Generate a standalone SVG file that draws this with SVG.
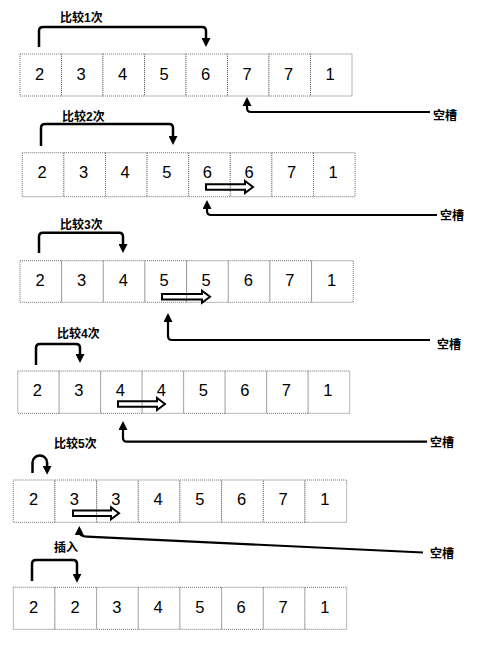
<svg xmlns="http://www.w3.org/2000/svg" width="480" height="649" viewBox="0 0 480 649">
<style>
.cell{fill:#fff;stroke:#707070;stroke-width:1;stroke-dasharray:1 1}
.num{font-family:"Liberation Sans",Arial,sans-serif;font-size:16.5px;fill:#000;text-anchor:middle}
.lbl{font-family:"Liberation Sans","Noto Sans CJK SC",sans-serif;font-size:12px;font-weight:bold;fill:#000}
.br{fill:none;stroke:#000;stroke-width:2.5}
.cn{fill:none;stroke:#000;stroke-width:2.2}
.ha{fill:none;stroke:#000;stroke-width:2;stroke-linejoin:miter}
</style>
<defs>
<marker id="ah" viewBox="0 0 10 10" markerWidth="9" markerHeight="9" markerUnits="userSpaceOnUse" refX="3" refY="5" orient="auto">
<path d="M0,0 L10,5 L0,10 z" fill="#000"/>
</marker>
</defs>

<g id="row1">
<rect class="cell" x="20" y="54" width="41.5" height="42"/>
<rect class="cell" x="61.5" y="54" width="41.5" height="42"/>
<rect class="cell" x="103" y="54" width="41.5" height="42"/>
<rect class="cell" x="144.5" y="54" width="41.5" height="42"/>
<rect class="cell" x="186" y="54" width="41.5" height="42"/>
<rect class="cell" x="227.5" y="54" width="41.5" height="42"/>
<rect class="cell" x="269" y="54" width="41.5" height="42"/>
<rect class="cell" x="310.5" y="54" width="41.5" height="42"/>
<text class="num" x="39.7" y="79.8">2</text>
<text class="num" x="81.2" y="79.8">3</text>
<text class="num" x="122.7" y="79.8">4</text>
<text class="num" x="164.2" y="79.8">5</text>
<text class="num" x="205.7" y="79.8">6</text>
<text class="num" x="247.2" y="79.8">7</text>
<text class="num" x="288.7" y="79.8">7</text>
<text class="num" x="330.2" y="79.8">1</text>
</g>

<g id="row2">
<rect class="cell" x="22.3" y="152.7" width="41.6" height="44"/>
<rect class="cell" x="63.9" y="152.7" width="41.6" height="44"/>
<rect class="cell" x="105.5" y="152.7" width="41.6" height="44"/>
<rect class="cell" x="147.1" y="152.7" width="41.6" height="44"/>
<rect class="cell" x="188.7" y="152.7" width="41.6" height="44"/>
<rect class="cell" x="230.3" y="152.7" width="41.6" height="44"/>
<rect class="cell" x="271.9" y="152.7" width="41.6" height="44"/>
<rect class="cell" x="313.5" y="152.7" width="41.6" height="44"/>
<text class="num" x="42" y="177.8">2</text>
<text class="num" x="83.6" y="177.8">3</text>
<text class="num" x="125.2" y="177.8">4</text>
<text class="num" x="166.8" y="177.8">5</text>
<text class="num" x="207.4" y="177.8">6</text>
<text class="num" x="249" y="177.8">6</text>
<text class="num" x="291.6" y="177.8">7</text>
<text class="num" x="333.2" y="177.8">1</text>
</g>

<g id="row3">
<rect class="cell" x="20" y="260.7" width="41.66" height="41.6"/>
<rect class="cell" x="61.66" y="260.7" width="41.66" height="41.6"/>
<rect class="cell" x="103.32" y="260.7" width="41.66" height="41.6"/>
<rect class="cell" x="144.98" y="260.7" width="41.66" height="41.6"/>
<rect class="cell" x="186.64" y="260.7" width="41.66" height="41.6"/>
<rect class="cell" x="228.3" y="260.7" width="41.66" height="41.6"/>
<rect class="cell" x="269.96" y="260.7" width="41.66" height="41.6"/>
<rect class="cell" x="311.62" y="260.7" width="41.66" height="41.6"/>
<text class="num" x="40" y="286">2</text>
<text class="num" x="81.6" y="286">3</text>
<text class="num" x="123.3" y="286">4</text>
<text class="num" x="164" y="286">5</text>
<text class="num" x="206" y="286">5</text>
<text class="num" x="248.3" y="286">6</text>
<text class="num" x="289.9" y="286">7</text>
<text class="num" x="331.6" y="286">1</text>
</g>

<g id="row4">
<rect class="cell" x="17.7" y="371" width="41.5" height="42.3"/>
<rect class="cell" x="59.2" y="371" width="41.5" height="42.3"/>
<rect class="cell" x="100.7" y="371" width="41.5" height="42.3"/>
<rect class="cell" x="142.2" y="371" width="41.5" height="42.3"/>
<rect class="cell" x="183.7" y="371" width="41.5" height="42.3"/>
<rect class="cell" x="225.2" y="371" width="41.5" height="42.3"/>
<rect class="cell" x="266.7" y="371" width="41.5" height="42.3"/>
<rect class="cell" x="308.2" y="371" width="41.5" height="42.3"/>
<text class="num" x="37.4" y="396.4">2</text>
<text class="num" x="78.9" y="396.4">3</text>
<text class="num" x="120.4" y="396.4">4</text>
<text class="num" x="161.4" y="396.4">4</text>
<text class="num" x="203.4" y="396.4">5</text>
<text class="num" x="244.9" y="396.4">6</text>
<text class="num" x="286.4" y="396.4">7</text>
<text class="num" x="327.9" y="396.4">1</text>
</g>

<g id="row5">
<rect class="cell" x="13.3" y="480" width="41.67" height="42.3"/>
<rect class="cell" x="54.97" y="480" width="41.67" height="42.3"/>
<rect class="cell" x="96.64" y="480" width="41.67" height="42.3"/>
<rect class="cell" x="138.31" y="480" width="41.67" height="42.3"/>
<rect class="cell" x="179.98" y="480" width="41.67" height="42.3"/>
<rect class="cell" x="221.65" y="480" width="41.67" height="42.3"/>
<rect class="cell" x="263.32" y="480" width="41.67" height="42.3"/>
<rect class="cell" x="304.99" y="480" width="41.67" height="42.3"/>
<text class="num" x="33.5" y="505.2">2</text>
<text class="num" x="74.3" y="505.2">3</text>
<text class="num" x="115.8" y="505.2">3</text>
<text class="num" x="158.1" y="505.2">4</text>
<text class="num" x="199.8" y="505.2">5</text>
<text class="num" x="241.5" y="505.2">6</text>
<text class="num" x="283.2" y="505.2">7</text>
<text class="num" x="324.8" y="505.2">1</text>
</g>

<g id="row6">
<rect class="cell" x="13.3" y="587.3" width="41.67" height="42"/>
<rect class="cell" x="54.97" y="587.3" width="41.67" height="42"/>
<rect class="cell" x="96.64" y="587.3" width="41.67" height="42"/>
<rect class="cell" x="138.31" y="587.3" width="41.67" height="42"/>
<rect class="cell" x="179.98" y="587.3" width="41.67" height="42"/>
<rect class="cell" x="221.65" y="587.3" width="41.67" height="42"/>
<rect class="cell" x="263.32" y="587.3" width="41.67" height="42"/>
<rect class="cell" x="304.99" y="587.3" width="41.67" height="42"/>
<text class="num" x="33.5" y="613">2</text>
<text class="num" x="75.2" y="613">2</text>
<text class="num" x="116.8" y="613">3</text>
<text class="num" x="158.1" y="613">4</text>
<text class="num" x="199.8" y="613">5</text>
<text class="num" x="241" y="613">6</text>
<text class="num" x="283.2" y="613">7</text>
<text class="num" x="324.8" y="613">1</text>
</g>

<g id="labels">
<text class="lbl" x="60" y="21.5">比较1次</text>
<text class="lbl" x="62" y="121">比较2次</text>
<text class="lbl" x="60" y="228.5">比较3次</text>
<text class="lbl" x="57" y="337.5">比较4次</text>
<text class="lbl" x="54" y="447.5">比较5次</text>
<text class="lbl" x="54" y="552">插入</text>
<text class="lbl" x="433" y="119.5">空槽</text>
<text class="lbl" x="440" y="220">空槽</text>
<text class="lbl" x="437" y="348.5">空槽</text>
<text class="lbl" x="430" y="447">空槽</text>
<text class="lbl" x="430" y="557.5">空槽</text>
</g>

<g id="connectors">
<path class="br" marker-end="url(#ah)" d="M39,47 V31 Q39,27 43,27 H202 Q206,27 206,31 V40.7"/>
<path class="br" marker-end="url(#ah)" d="M41,146 V128 Q41,124 45,124 H169 Q173,124 173,128 V138.7"/>
<path class="br" marker-end="url(#ah)" d="M39,253 V236.7 Q39,232.7 43,232.7 H119 Q123,232.7 123,236.7 V246.7"/>
<path class="br" marker-end="url(#ah)" d="M36,365 V348 Q36,344 40,344 H76 Q80,344 80,348 V356.7"/>
<path class="br" marker-end="url(#ah)" d="M32.5,473 V462.5 A7.3,7 0 0 1 47.1,462.5 V468.5"/>
<path class="br" marker-end="url(#ah)" d="M32,581 V564 Q32,560 36,560 H73 Q77,560 77,564 V576.5"/>

<path class="cn" marker-end="url(#ah)" d="M430,112 H251 Q247,112 247,108 V103.3"/>
<path class="cn" marker-end="url(#ah)" d="M437,215 H211 Q207,215 207,211 V206.3"/>
<path class="cn" marker-end="url(#ah)" d="M430,340 H172 Q168,340 168,336 V319.3"/>
<path class="cn" marker-end="url(#ah)" d="M427,441.7 H127 Q123,441.7 123,437.7 V427.3"/>
<path class="cn" marker-end="url(#ah)" d="M423,552.5 L87,536.6 C81,536.3 79.3,535 79.3,532.3"/>

<polygon class="ha" points="206,184.3 245,184.3 245,181 253,187 245,193 245,189.7 206,189.7"/>
<polygon class="ha" points="162,294 202,294 202,290.7 210,296.7 202,302.7 202,299.4 162,299.4"/>
<polygon class="ha" points="118,401.3 157,401.3 157,398 165,404 157,410 157,406.7 118,406.7"/>
<polygon class="ha" points="73,510.6 111,510.6 111,507.3 119,513.3 111,519.3 111,516 73,516"/>
</g>
</svg>
